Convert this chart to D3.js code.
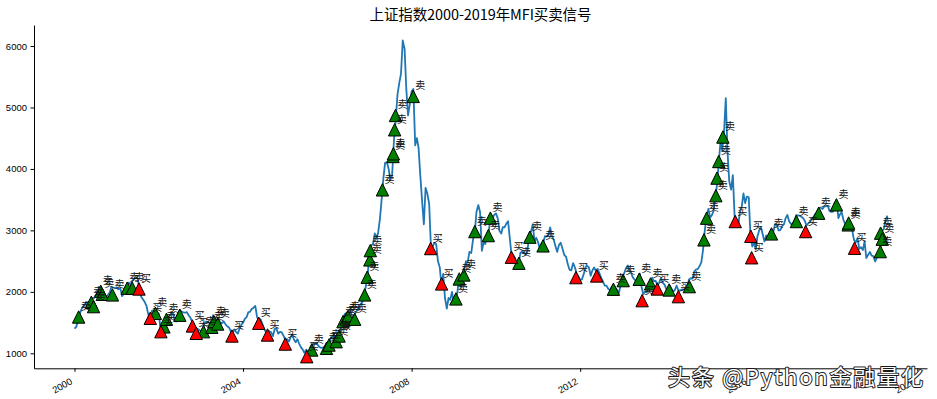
<!DOCTYPE html>
<html>
<head>
<meta charset="utf-8">
<script src="https://cdn.jsdelivr.net/npm/d3@7"></script>
<style>
  body { margin: 0; background: #fff; }
</style>
</head>
<body>
<svg id="chart" width="937" height="399"></svg>
<script>
// Shanghai composite, two readings per month (1st and 16th)
var sh2000 = [1400,1430,1535,1640,1715,1760,1800,1830,1836,1800,1895,1900,1928,1990,2023,2080,2021,1960,1910,1950,1990,2080,2071,2060];
var sh2001 = [2073,2040,2065,1930,1960,2060,2112,2150,2119,2180,2214,2240,2218,2050,1920,1880,1834,1770,1642,1530,1689,1700,1680,1660];
var sh2002 = [1646,1380,1491,1440,1524,1580,1603,1640,1660,1560,1515,1650,1700,1680,1666,1660,1670,1620,1581,1520,1480,1380,1400,1380];
var sh2003 = [1358,1360,1500,1510,1511,1490,1510,1620,1521,1540,1576,1500,1487,1520,1476,1440,1421,1360,1330,1390,1349,1320,1397,1460];
var sh2004 = [1497,1560,1590,1670,1675,1720,1742,1770,1595,1520,1555,1480,1400,1350,1330,1360,1342,1280,1396,1400,1320,1350,1340,1290];
var sh2005 = [1220,1230,1191,1260,1306,1230,1181,1230,1159,1100,1060,1010,1060,1020,1040,1080,1162,1150,1155,1120,1092,1090,1099,1100];
var sh2006 = [1161,1150,1258,1240,1299,1220,1298,1300,1440,1560,1641,1580,1672,1700,1612,1570,1658,1700,1752,1800,1837,1950,2099,2260];
var sh2007 = [2675,2750,2786,2950,2881,2950,3183,3500,3841,4100,4109,4000,3820,3900,4471,4800,5218,5400,5552,6090,5954,5300,4871,5050];
var sh2008 = [5262,5300,4383,4500,4348,3900,3472,3100,3693,3600,3433,2750,2736,2800,2775,2500,2397,2100,2293,1900,1729,1900,1871,2000];
var sh2009 = [1820,1900,1991,2250,2082,2200,2373,2500,2477,2650,2632,2850,2959,3300,3412,3300,2668,2800,2779,2950,2995,3250,3195,3250];
var sh2010 = [3277,3200,2989,2950,3051,3050,3110,3150,2871,2600,2592,2550,2398,2450,2638,2650,2639,2600,2656,2950,2979,3100,2820,2880];
var sh2011 = [2808,2700,2791,2800,2905,2900,2928,3050,2911,2850,2743,2650,2762,2800,2701,2600,2568,2450,2359,2350,2468,2400,2300,2250];
var sh2012 = [2199,2200,2292,2400,2428,2400,2262,2350,2396,2340,2372,2300,2225,2170,2103,2100,2047,2030,2086,2100,2068,2030,1980,2100];
var sh2013 = [2269,2300,2385,2430,2365,2320,2236,2200,2177,2250,2300,2080,1960,2000,1993,2070,2098,2230,2174,2180,2100,2150,2220,2150];
var sh2014 = [2116,2050,2033,2100,2056,2000,2033,2100,2026,2020,2039,2040,2048,2060,2201,2220,2217,2330,2364,2370,2420,2480,2683,3000];
var sh2015 = [3235,3350,3210,3250,3310,3500,3748,4100,4441,4300,4612,5150,4277,3800,3664,3900,3206,3150,3053,3300,3383,3600,3445,3550];
var sh2016 = [3539,2900,2738,2800,2688,2900,3004,3050,2938,2820,2917,2900,2930,3000,2979,3100,3085,3000,3005,3070,3100,3200,3250,3150];
var sh2017 = [3104,3110,3159,3250,3242,3240,3223,3200,3155,3080,3117,3140,3192,3220,3273,3250,3361,3370,3349,3390,3393,3400,3317,3300];
var sh2018 = [3307,3450,3490,3200,3259,3300,3169,3100,3082,3170,3095,3000,2847,2800,2876,2700,2725,2680,2821,2550,2603,2650,2588,2580];
var sh2019 = [2494,2560,2618,2682,2994,3021,3170,3240];

// MFI signals
var buyDates = ["2001-07-13","2001-10-19","2002-01-19","2002-10-19","2002-11-21","2003-09-27","2004-05-16","2004-07-31",
  "2005-01-01","2005-07-06","2008-06-14","2008-09-17","2010-05-15","2011-11-25","2012-05-23","2013-06-21",
  "2013-10-30","2014-05-01","2015-09-06","2016-01-19","2016-01-26","2017-05-08","2018-07-06"];
var buyValues = [2047,1570,1352,1445,1325,1282,1489,1298,
  1151,945,2705,2129,2564,2232,2259,1857,
  2047,1922,3144,2905,2555,2981,2710];

var sellDates = ["2000-02-06","2000-05-26","2000-06-14","2000-08-15","2000-08-29","2000-11-25","2001-04-02","2001-05-16",
  "2001-12-02","2002-02-14","2002-03-08","2002-07-02","2003-01-23","2003-04-05","2003-04-23","2003-05-26",
  "2005-08-18","2005-12-24","2006-01-15","2006-03-18","2006-04-12","2006-05-16","2006-06-14","2006-06-28",
  "2006-08-25","2006-11-20","2006-12-12","2007-01-04","2007-01-08","2007-04-23","2007-07-24","2007-07-27",
  "2007-08-07","2007-08-14","2008-01-15","2009-01-19","2009-02-17","2009-03-29","2009-07-02","2009-10-27",
  "2009-11-14","2010-07-19","2010-10-22","2011-02-13","2012-10-15","2013-01-08","2013-05-27","2013-09-02",
  "2014-02-10","2014-08-04","2014-12-09","2015-01-01","2015-03-22","2015-04-01","2015-04-16","2015-05-22",
  "2016-07-16","2017-02-17","2017-08-29","2018-01-30","2018-05-12","2018-05-16","2019-02-14","2019-02-17","2019-03-03"];
var sellValues = [1591,1830,1760,2010,1960,1950,2060,2060,
  1650,1430,1553,1620,1352,1424,1515,1477,
  1054,1081,1135,1189,1282,1515,1560,1596,
  1554,1950,2238,2520,2671,3660,4203,4247,
  4637,4870,5180,1885,2210,2275,2981,2916,
  3200,2466,2890,2748,2043,2183,2205,2129,
  2031,2085,2846,3199,3565,3851,4121,4519,
  2943,3144,3280,3416,3090,3120,2655,2955,2857];

var yTicks = [1000, 2000, 3000, 4000, 5000, 6000];
var xTickYears = [2000, 2004, 2008, 2012, 2016, 2020];

var titleText = "上证指数2000-2019年MFI买卖信号";
var watermark = "头条 @Python金融量化";

var parseDate = d3.timeParse("%Y-%m-%d");

var yearly = [sh2000, sh2001, sh2002, sh2003, sh2004, sh2005, sh2006, sh2007, sh2008, sh2009,
              sh2010, sh2011, sh2012, sh2013, sh2014, sh2015, sh2016, sh2017, sh2018, sh2019];
var series = [];
yearly.forEach(function(vals, k) {
  vals.forEach(function(v, i) {
    series.push({date: new Date(2000 + k, Math.floor(i / 2), (i % 2) ? 16 : 1), value: v});
  });
});

function makeSignals(dates, values, kind) {
  return dates.map(function(d, i) { return {date: parseDate(d), value: values[i], kind: kind}; });
}
var signals = makeSignals(sellDates, sellValues, "sell").concat(makeSignals(buyDates, buyValues, "buy"));

var svg = d3.select("#chart");
var plotLeft = 34, plotRight = 927, plotTop = 25, plotBottom = 368.3;

var x = d3.scaleTime()
          .domain([new Date(1999, 0, 15), new Date(2020, 2, 25)])
          .range([plotLeft, plotRight]);
var y = d3.scaleLinear()
          .domain([756, 6342])
          .range([plotBottom, plotTop]);

var tickFont = "'Liberation Sans', Arial, sans-serif";

// y axis
var yAxis = svg.append("g")
               .attr("transform", "translate(" + plotLeft + ",0)")
               .call(d3.axisLeft(y).tickValues(yTicks).tickFormat(d3.format("d"))
                       .tickSize(3.5).tickSizeOuter(0).tickPadding(3.5));
// x axis
var xAxis = svg.append("g")
               .attr("transform", "translate(0," + plotBottom + ")")
               .call(d3.axisBottom(x)
                       .tickValues(xTickYears.map(function(yr) { return new Date(yr, 0, 1); }))
                       .tickFormat(d3.timeFormat("%Y"))
                       .tickSize(3.5).tickSizeOuter(0));
[yAxis, xAxis].forEach(function(g) {
  g.attr("font-family", tickFont).attr("font-size", 9.5).attr("color", "#000");
  g.selectAll("path, line").attr("stroke-width", 1);
});
xAxis.selectAll("text")
     .attr("x", 0).attr("y", 0).attr("dy", null)
     .attr("text-anchor", "end")
     .attr("transform", "translate(-2,15) rotate(-30)");

// price line
var line = d3.line()
             .x(function(d) { return x(d.date); })
             .y(function(d) { return y(d.value); });
svg.append("path")
   .datum(series)
   .attr("fill", "none")
   .attr("stroke", "#1f77b4")
   .attr("stroke-width", 1.8)
   .attr("stroke-linejoin", "round")
   .attr("d", line);

// triangles
var h = 6.2;
svg.append("g").selectAll("path")
   .data(signals)
   .enter()
   .append("path")
   .attr("d", function(d) {
     var cx = x(d.date), cy = y(d.value);
     return "M" + cx + "," + (cy - h) + "L" + (cx - h) + "," + (cy + h) + "L" + (cx + h) + "," + (cy + h) + "Z";
   })
   .attr("fill", function(d) { return d.kind === "buy" ? "#ff0000" : "#008000"; })
   .attr("stroke", "#000")
   .attr("stroke-width", 1);

// labels
svg.append("g").selectAll("text")
   .data(signals)
   .enter()
   .append("text")
   .attr("x", function(d) { return x(d.date) + 2; })
   .attr("y", function(d) { return y(d.value) - 7; })
   .attr("font-family", "'Noto Sans CJK SC', sans-serif")
   .attr("font-size", 10)
   .attr("fill", "#111")
   .text(function(d) { return d.kind === "buy" ? "买" : "卖"; });

// title
svg.append("text")
   .attr("x", (plotLeft + plotRight) / 2)
   .attr("y", 20)
   .attr("text-anchor", "middle")
   .attr("font-family", "'Noto Sans CJK SC', sans-serif")
   .attr("font-size", 14.5)
   .attr("textLength", 222)
   .attr("fill", "#000")
   .text(titleText);

// watermark
svg.append("text")
   .attr("x", 668)
   .attr("y", 385)
   .attr("font-family", "'Noto Sans CJK SC', sans-serif")
   .attr("font-size", 22)
   .attr("textLength", 255)
   .attr("fill", "#fff")
   .attr("stroke", "#1a1a1a")
   .attr("stroke-width", 2)
   .attr("stroke-linejoin", "round")
   .attr("paint-order", "stroke")
   .text(watermark);
</script>
</body>
</html>
